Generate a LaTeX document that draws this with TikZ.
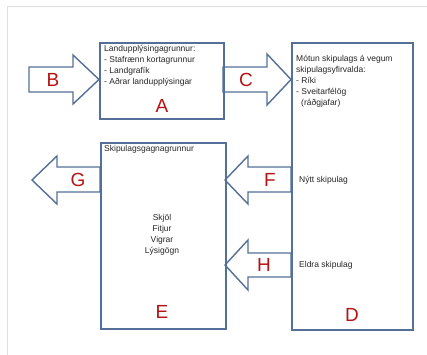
\documentclass[tikz,border=0pt]{standalone}
\usepackage{fontspec}
\setmainfont{Liberation Sans}
\definecolor{bl}{RGB}{84,112,152}
\definecolor{lred}{RGB}{180,20,20}
\begin{document}
\begin{tikzpicture}[x=1pt,y=-1pt,
  font=\fontsize{8.5}{11}\selectfont,
  box/.style={draw=bl, line width=1.5pt, inner sep=0pt, anchor=north west},
  barrow/.style={draw=bl, line width=1.4pt, fill=white, line join=miter},
  lbl/.style={text=lred, font=\fontsize{19}{19}\selectfont, inner sep=0pt},
  txt/.style={inner sep=0pt, align=left, anchor=north west, text=black!85}]
\useasboundingbox (0,0) rectangle (427,354);
\fill[white] (0,0) rectangle (427,354);
\draw[gray!25, line width=1pt] (7,360) -- (7,6) -- (430,6);
% block arrows
\draw[barrow] (29,67) -- (73,67) -- (73,55) -- (99,79.5) -- (73,104) -- (73,92) -- (29,92) -- cycle;
\draw[barrow] (223,67) -- (267,67) -- (267,54) -- (291,79.5) -- (267,105) -- (267,92) -- (223,92) -- cycle;
\draw[barrow] (100,167) -- (57,167) -- (57,156) -- (32,180) -- (57,204) -- (57,192) -- (100,192) -- cycle;
\draw[barrow] (291,167) -- (248,167) -- (248,156) -- (225,180) -- (248,204) -- (248,192) -- (291,192) -- cycle;
\draw[barrow] (291,253) -- (248,253) -- (248,240) -- (225,265) -- (248,290) -- (248,277) -- (291,277) -- cycle;
% boxes
\node[box, minimum width=124pt, minimum height=76pt] (A) at (99,42) {};
\node[box, minimum width=121pt, minimum height=287pt] (D) at (291,42) {};
\node[box, minimum width=125pt, minimum height=186pt] (E) at (100,142) {};
% texts
\node[txt] (At) at (104,45) {Landupplýsingagrunnur:\\- Stafrænn kortagrunnur\\- Landgrafík\\- Aðrar landupplýsingar};
\node[txt] (Dt) at (296,55) {Mótun skipulags á vegum\\skipulagsyfirvalda:\\- Ríki\\- Sveitarfélög\\\hspace*{5pt}(ráðgjafar)};
\node[txt] (Et) at (104,145) {Skipulagsgagnagrunnur};
\node[txt, align=center, anchor=center] (Ec) at (162,234.5) {Skjöl\\Fitjur\\Vigrar\\Lýsigögn};
\node[txt, anchor=west] (Nt) at (299,180) {Nýtt skipulag};
\node[txt, anchor=west] (Et2) at (299,265) {Eldra skipulag};
% letters
\node[lbl] (lB) at (53,79.5) {B};
\node[lbl] (lC) at (246,79.5) {C};
\node[lbl] (lA) at (162,106) {A};
\node[lbl] (lG) at (78,180) {G};
\node[lbl] (lF) at (270,180) {F};
\node[lbl] (lH) at (264,265) {H};
\node[lbl] (lE) at (162,312) {E};
\node[lbl] (lD) at (352,315) {D};
\end{tikzpicture}
\end{document}
